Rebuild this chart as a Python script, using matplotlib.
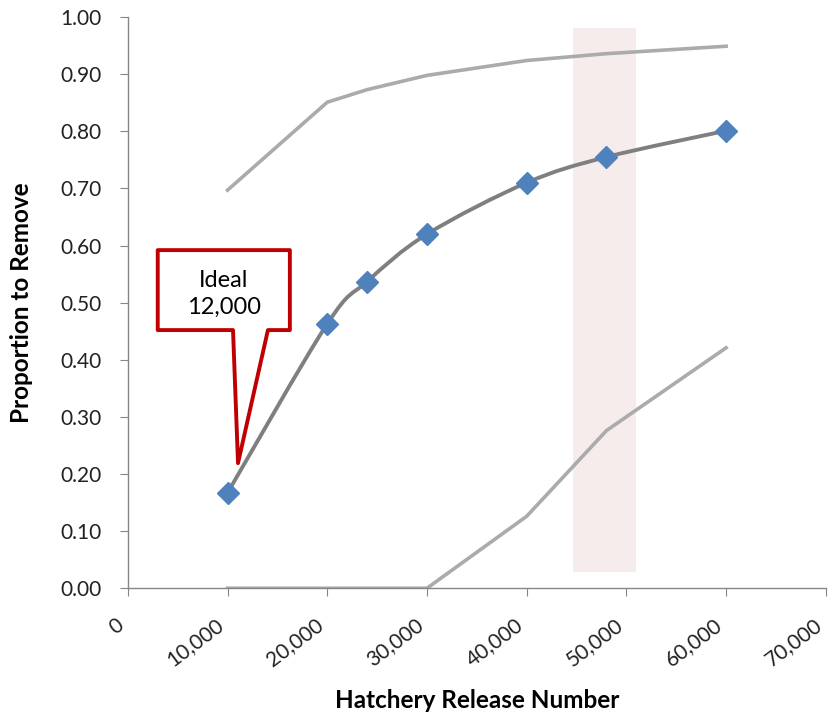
import matplotlib.pyplot as plt
from matplotlib.path import Path
from matplotlib.patches import PathPatch, Polygon, Rectangle
from matplotlib.ticker import FuncFormatter

plt.rcParams["font.family"] = ["Lato", "DejaVu Sans"]

release = [10000, 20000, 24000, 30000, 40000, 48000, 60000]
remove_mean = [0.167, 0.463, 0.537, 0.620, 0.710, 0.755, 0.801]
remove_upper = [0.697, 0.851, 0.873, 0.898, 0.924, 0.936, 0.949]
remove_lower = [0.0, 0.0, 0.0, 0.0, 0.126, 0.276, 0.421]

band_x = (44600, 51000)
band_y = (0.028, 0.981)


def smooth_path(xs, ys, k=1 / 6):
    # catmull-rom style cubic bezier through the points
    verts = [(xs[0], ys[0])]
    codes = [Path.MOVETO]
    n = len(xs)
    for i in range(n - 1):
        x0, y0 = (xs[i - 1], ys[i - 1]) if i > 0 else (xs[i], ys[i])
        x1, y1 = xs[i], ys[i]
        x2, y2 = xs[i + 1], ys[i + 1]
        x3, y3 = (xs[i + 2], ys[i + 2]) if i + 2 < n else (x2, y2)
        c1 = (x1 + (x2 - x0) * k, y1 + (y2 - y0) * k)
        c2 = (x2 - (x3 - x1) * k, y2 - (y3 - y1) * k)
        verts += [c1, c2, (x2, y2)]
        codes += [Path.CURVE4] * 3
    return Path(verts, codes)


fig = plt.figure(figsize=(8.3, 7.13), dpi=100)
ax = fig.add_axes([0.154, 0.175, 0.841, 0.801])

ax.add_patch(Rectangle((band_x[0], band_y[0]), band_x[1] - band_x[0],
                       band_y[1] - band_y[0], facecolor="#F6ECEB",
                       edgecolor="none", zorder=1))

ax.plot(release, remove_upper, color="#ABABAB", lw=2.6,
        solid_joinstyle="round", zorder=2)
ax.plot(release, remove_lower, color="#ABABAB", lw=2.6,
        solid_joinstyle="round", zorder=2)
ax.add_patch(PathPatch(smooth_path(release, remove_mean), facecolor="none",
                       edgecolor="#7F7F7F", lw=2.8, zorder=3))
ax.plot(release, remove_mean, ls="none", marker="D", markersize=11,
        color="#4F81BD", zorder=4)

# callout box
callout = [(3000, 0.592), (16250, 0.592), (16250, 0.452), (14050, 0.452),
           (11050, 0.219), (10550, 0.452), (3000, 0.452)]
ax.add_patch(Polygon(callout, closed=True, facecolor="white",
                     edgecolor="#C00000", lw=2.8, joinstyle="round", zorder=5))
ax.text(9600, 0.516, "Ideal\n12,000", ha="center", va="center",
        fontsize=17, linespacing=1.35, zorder=6)

ax.set_xlim(0, 70000)
ax.set_ylim(0, 1.0)
ax.set_xticks(range(0, 70001, 10000))
ax.set_yticks([i / 10 for i in range(11)])
ax.xaxis.set_major_formatter(FuncFormatter(lambda v, p: f"{int(v):,}"))
ax.yaxis.set_major_formatter(FuncFormatter(lambda v, p: f"{v:.2f}"))

for s in ["top", "right"]:
    ax.spines[s].set_visible(False)
for s in ["left", "bottom"]:
    ax.spines[s].set_color("#868686")
    ax.spines[s].set_linewidth(1.0)
ax.tick_params(direction="out", length=6, color="#868686", labelsize=15,
               labelcolor="#222222")
ax.tick_params(axis="y", pad=13)
ax.tick_params(axis="x", pad=13)
plt.setp(ax.get_xticklabels(), rotation=37, ha="right", va="top",
         rotation_mode="default")

ax.set_xlabel("Hatchery Release Number", fontsize=17.5, fontweight="bold")
ax.set_ylabel("Proportion to Remove", fontsize=17.5, fontweight="bold")
ax.xaxis.set_label_coords(0.501, -0.176)
ax.yaxis.set_label_coords(-0.136, 0.5)

fig.savefig("out.png", dpi=100)
